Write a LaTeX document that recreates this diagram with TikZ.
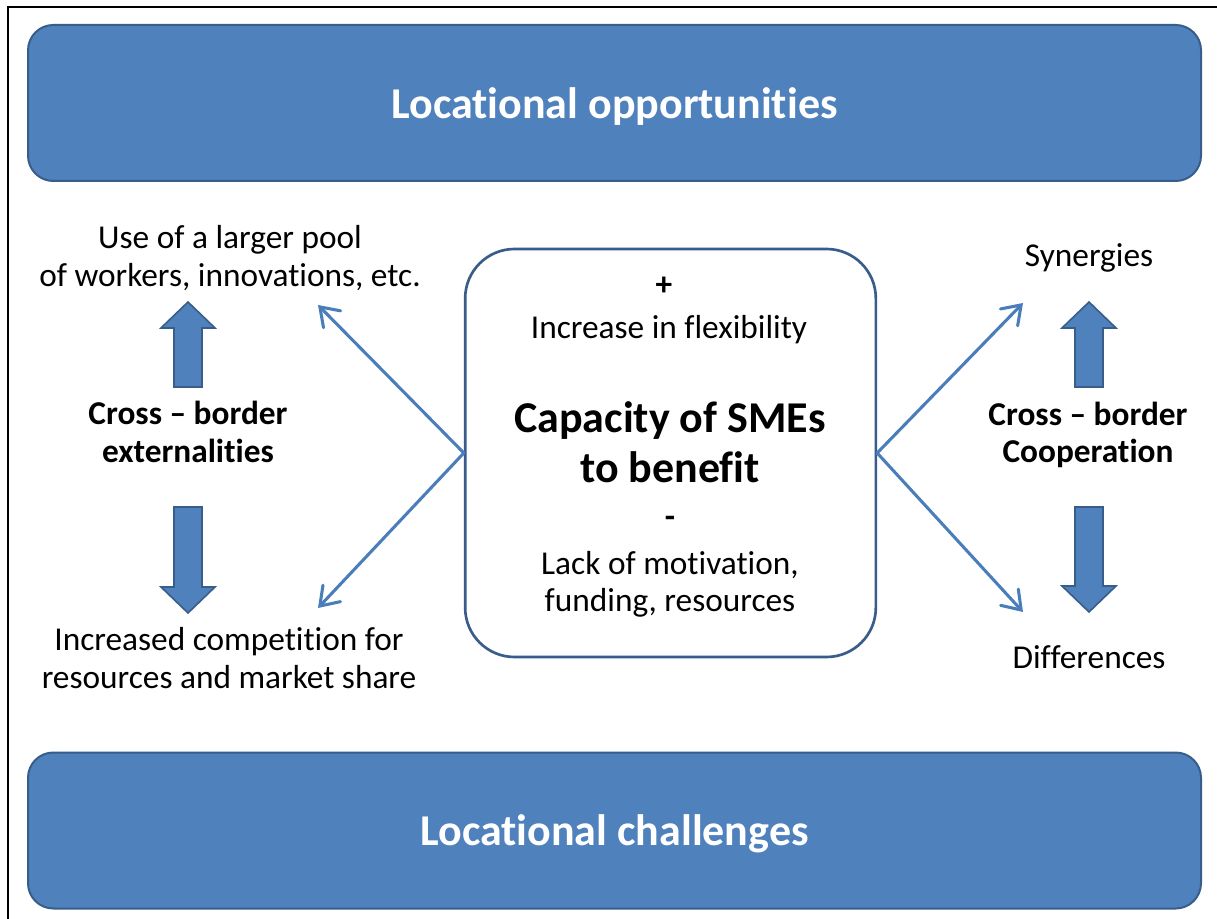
\documentclass[tikz,border=0pt]{standalone}
\usepackage{fontspec}
\setmainfont[Ligatures={TeX,NoCommon}]{Carlito}
\usepackage{tikz}
\usetikzlibrary{arrows.meta}
\definecolor{boxblue}{HTML}{4F81BD}
\definecolor{edgeblue}{HTML}{385D8A}
\definecolor{linkblue}{HTML}{4A7EBB}
\newcommand{\bodysize}{\fontsize{25}{28}\selectfont}
\newcommand{\headsize}{\fontsize{33}{37.5}\selectfont}
% block arrow: x centre, tip y, end y, direction (1 up, -1 down)
\newcommand{\blockv}[4]{\draw[blockarrow] (#1,#2) -- (#1+27,#2+26*#4) -- (#1+14,#2+26*#4) -- (#1+14,#3) -- (#1-14,#3) -- (#1-14,#2+26*#4) -- (#1-27,#2+26*#4) -- cycle;}

\begin{document}
\begin{tikzpicture}[x=0.75pt,y=-0.75pt,
  banner/.style={draw=edgeblue,fill=boxblue,line width=1.5pt,rounded corners=19pt,
    minimum width=879.75pt,minimum height=117pt,text depth=0pt,text=white,font=\headsize\bfseries},
  corebox/.style={draw=edgeblue,fill=white,line width=2pt,rounded corners=37pt,
    minimum width=308pt,minimum height=306pt},
  label/.style={align=center,font=\bodysize,inner sep=0pt},
  keylabel/.style={align=center,font=\bodysize\bfseries,inner sep=0pt},
  blockarrow/.style={draw=edgeblue,fill=boxblue,line width=1.2pt},
  link/.style={draw=linkblue,line width=2.3pt,line cap=round,
    -{Straight Barb[length=13pt,width=18pt,line cap=round]}}]
\useasboundingbox (0,0) rectangle (1217,919);
\fill[white] (0,0) rectangle (1217,919);
\draw[line width=1.5pt] (8,919) -- (8,7) -- (1217,7);
%banners
\node[banner] (opp) at (614.5,103) {Locational opportunities};
\node[banner] (chal) at (614.5,830.5) {Locational challenges};
%centre
\node[corebox] (core) at (670.5,453) {};
\node[keylabel] (plus) at (664,286) {+};
\node[label] (flex) at (669,330) {Increase in flexibility};
\node[keylabel,font=\headsize\bfseries] (cap) at (670,442) {Capacity of SMEs\\to benefit};
\node[keylabel] (minus) at (670,522) {-};
\node[label] (lack) at (670,584) {Lack of motivation,\\funding, resources};
%left side
\node[label] (pool) at (230,258) {Use of a larger pool\\of workers, innovations, etc.};
\node[keylabel] (extern) at (188,432) {Cross – border\\externalities};
\node[label] (compet) at (229,658) {Increased competition for\\resources and market share};
\blockv{188}{302}{387}{1}
\blockv{188}{613}{507}{-1}
%right side
\node[label] (syn) at (1089,258) {Synergies};
\node[keylabel] (coop) at (1088,435) {Cross – border\\Cooperation};
\node[label] (diff) at (1089,657) {Differences};
\blockv{1089}{302}{387}{1}
\blockv{1089}{612}{507}{-1}
%links
\coordinate (poolend) at (318,305);
\coordinate (competend) at (318,608);
\coordinate (synend) at (1023,303);
\coordinate (diffend) at (1023,612);
\draw[link] (core.west) -- (poolend);
\draw[link] (core.west) -- (competend);
\draw[link] (core.east) -- (synend);
\draw[link] (core.east) -- (diffend);
\end{tikzpicture}
\end{document}
